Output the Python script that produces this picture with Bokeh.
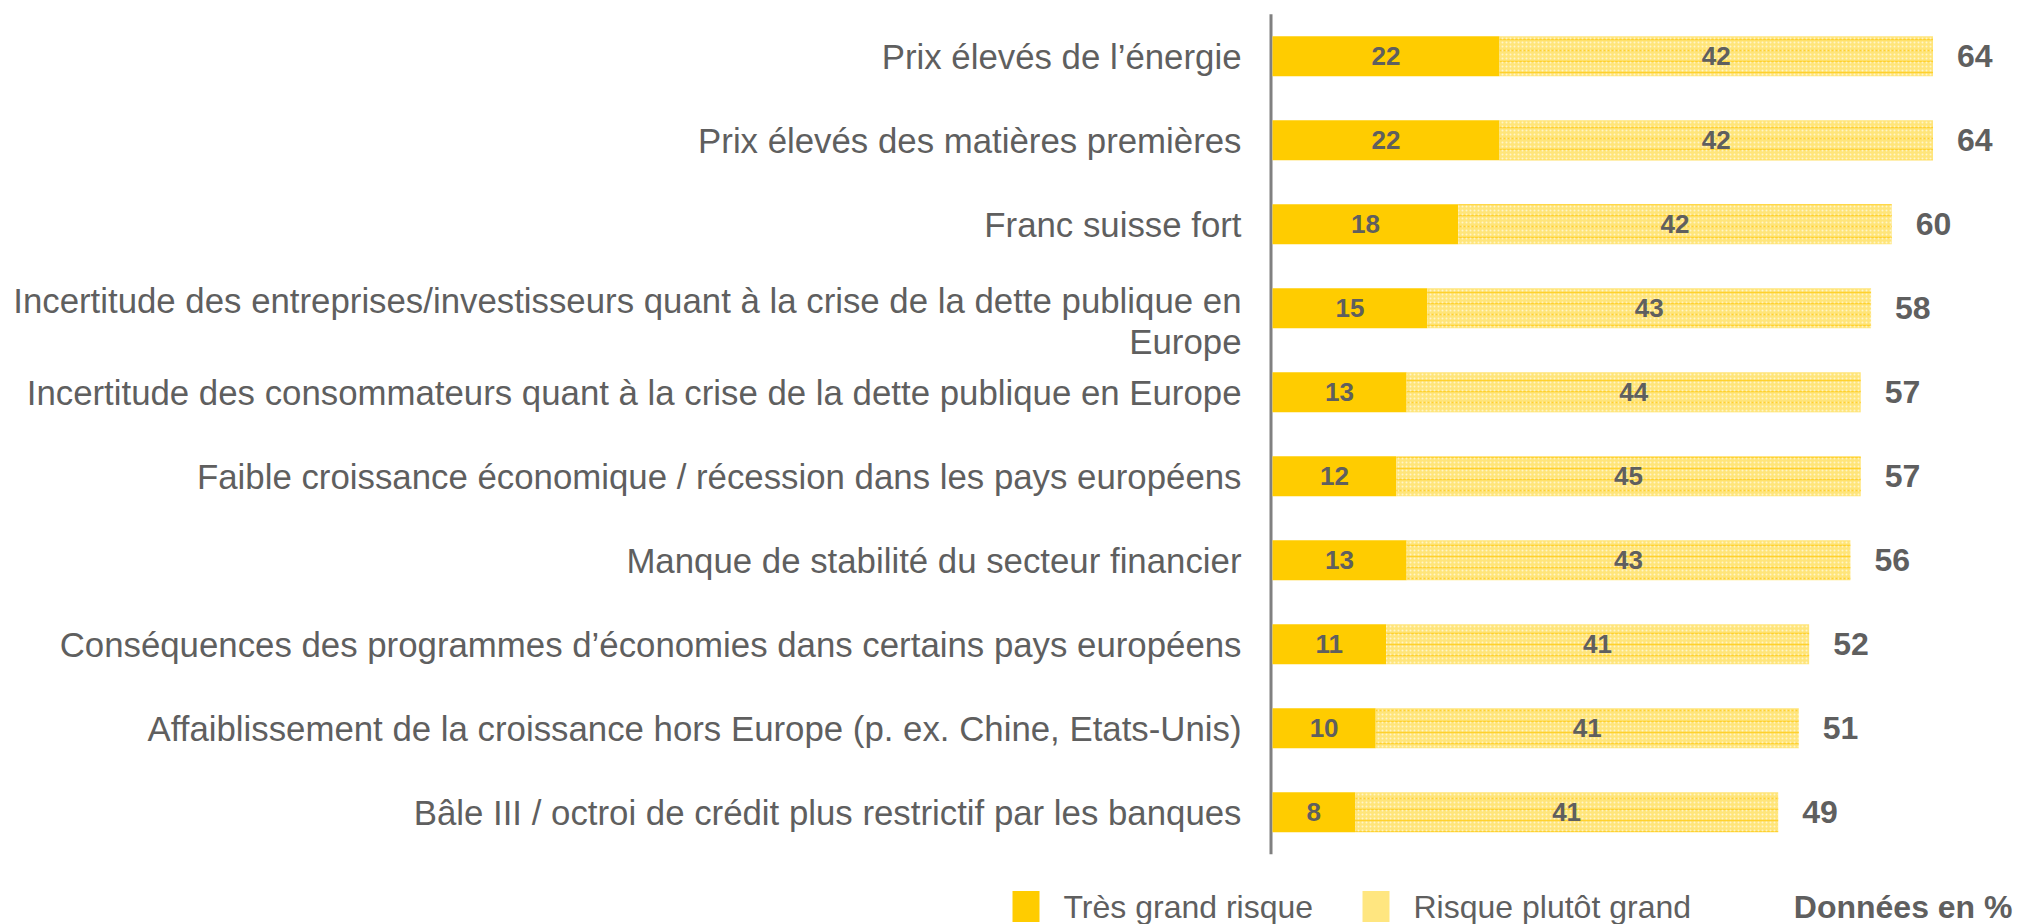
from bokeh.plotting import figure
from bokeh.models import Range1d, ColumnDataSource
from bokeh.core.properties import value
from bokeh.embed import file_html
from bokeh.resources import INLINE

# ---------------- data ----------------
categories = [
    "Prix élevés de l’énergie",
    "Prix élevés des matières premières",
    "Franc suisse fort",
    "Incertitude des entreprises/investisseurs quant à la crise de la dette publique en\nEurope",
    "Incertitude des consommateurs quant à la crise de la dette publique en Europe",
    "Faible croissance économique / récession dans les pays européens",
    "Manque de stabilité du secteur financier",
    "Conséquences des programmes d’économies dans certains pays européens",
    "Affaiblissement de la croissance hors Europe (p. ex. Chine, Etats-Unis)",
    "Bâle III / octroi de crédit plus restrictif par les banques",
]
tres_grand = [22, 22, 18, 15, 13, 12, 13, 11, 10, 8]
plutot_grand = [42, 42, 42, 43, 44, 45, 43, 41, 41, 41]
series_names = ["Très grand risque", "Risque plutôt grand"]
unit_note = "Données en %"

# ---------------- layout ----------------
W, H = 2017, 924
X0, S = 1272.0, 10.32      # pixel of value 0, pixels per unit
Y0, R = 55.7, 84.0         # pixel of first row centre, pixels per row
FONT = "Liberation Sans"
TXT = "#5F5F5F"
DARK = "#FFCC00"
LIGHT = "#FFE57A"


def xd(px):
    return (px - X0) / S


def yd(py):
    return (py - Y0) / R


p = figure(width=W, height=H, output_backend="svg", toolbar_location=None,
           x_range=Range1d(xd(0), xd(W)), y_range=Range1d(yd(H), yd(0)),
           x_axis_location=None, y_axis_location=None, min_border=0)
p.grid.visible = False
p.outline_line_color = None
p.background_fill_color = "white"
p.border_fill_color = "white"

n = len(categories)
idx = list(range(n))
right2 = [a + b for a, b in zip(tres_grand, plutot_grand)]
totals = right2

src = ColumnDataSource(dict(
    y=idx, v1=tres_grand, v2=plutot_grand, right2=right2,
    mid1=[a / 2 for a in tres_grand],
    mid2=[a + b / 2 for a, b in zip(tres_grand, plutot_grand)],
    t1=[str(a) for a in tres_grand], t2=[str(b) for b in plutot_grand],
    tt=[str(t) for t in totals], zero=[0] * n,
))

# vertical axis line
p.segment(x0=[xd(X0 - 1.5)], x1=[xd(X0 - 1.5)], y0=[-0.5], y1=[n - 0.5],
          line_color="#808080", line_width=3)

bar_h = 40 / R
p.hbar(y="y", left="zero", right="v1", height=bar_h, source=src,
       fill_color=DARK, line_color=None)
p.hbar(y="y", left="v1", right="right2", height=bar_h, source=src,
       fill_color=LIGHT, line_color=None,
       hatch_pattern="horizontal_line", hatch_color="#FFD12E",
       hatch_scale=11, hatch_weight=1.5)
p.hbar(y="y", left="v1", right="right2", height=bar_h, source=src,
       fill_alpha=0, line_color=None,
       hatch_pattern="dot", hatch_color="white", hatch_alpha=0.6,
       hatch_scale=4, hatch_weight=1)

# segment labels
p.text(x="mid1", y="y", text="t1", source=src, text_align="center",
       text_baseline="middle", text_font=value(FONT), text_font_style="bold",
       text_font_size="26px", text_color=TXT)
p.text(x="mid2", y="y", text="t2", source=src, text_align="center",
       text_baseline="middle", text_font=value(FONT), text_font_style="bold",
       text_font_size="26px", text_color=TXT)
# totals
p.text(x="right2", y="y", text="tt", source=src, x_offset=24,
       text_align="left", text_baseline="middle", text_font=value(FONT),
       text_font_style="bold", text_font_size="32px", text_color=TXT)

# category labels (multi-line handled line by line)
lx, ly, lt, loff = [], [], [], []
for i, c in enumerate(categories):
    lines = c.split("\n")
    first = -8 if len(lines) > 1 else 0
    for k, line in enumerate(lines):
        lx.append(0)
        ly.append(i)
        lt.append(line)
        loff.append(first + 41 * k)
lab = ColumnDataSource(dict(x=lx, y=ly, text=lt, off=loff))
p.text(x="x", y="y", text="text", y_offset="off", x_offset=-31, source=lab,
       text_align="right", text_baseline="middle", text_font=value(FONT),
       text_font_size="34.8px", text_color=TXT)

# legend
LY = yd(906)
p.rect(x=[xd(1025.5), xd(1375.5)], y=[LY, LY], width=27, height=31,
       width_units="screen", height_units="screen",
       fill_color=[DARK, "#FFE680"], line_color=None)
p.text(x=[xd(1063), xd(1413)], y=[LY, LY], text=series_names,
       text_align="left", text_baseline="middle", text_font=value(FONT),
       text_font_size="32px", text_color=TXT)
p.text(x=[xd(2012)], y=[LY], text=[unit_note], text_align="right",
       text_baseline="middle", text_font=value(FONT), text_font_style="bold",
       text_font_size="32px", text_color=TXT)

open("out.html", "w").write(file_html(p, INLINE))
